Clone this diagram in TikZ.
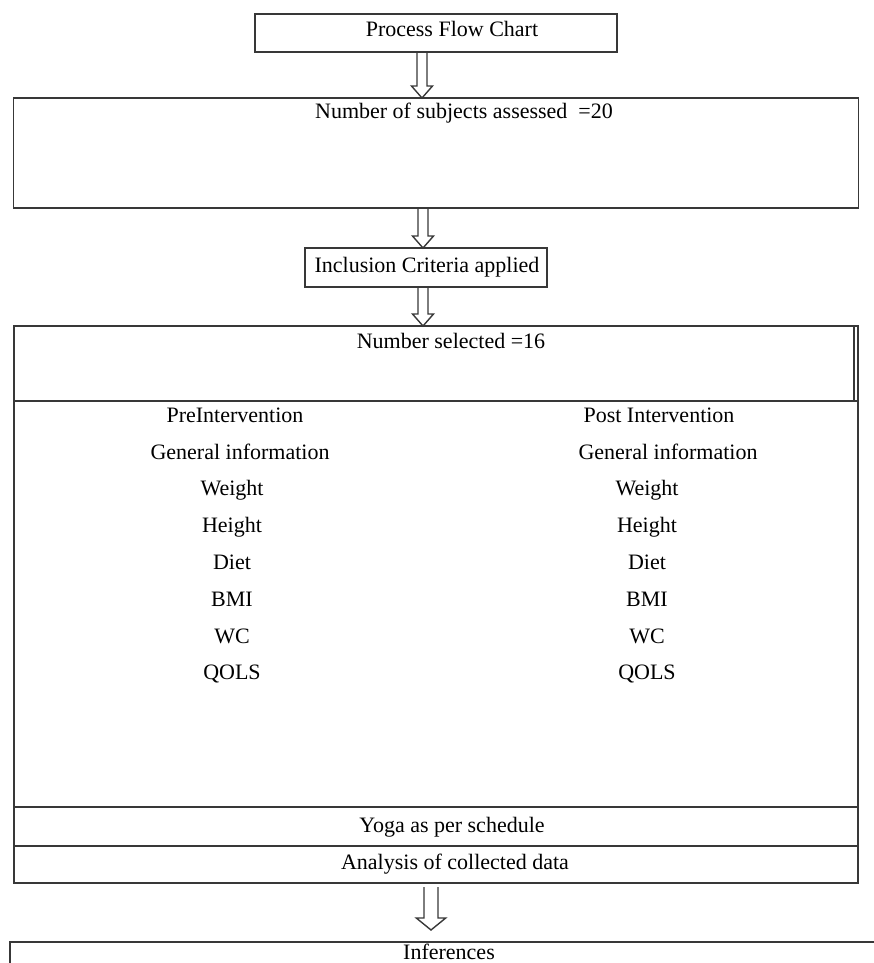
\documentclass[tikz,border=0pt]{standalone}
\usepackage{fontspec}
\setmainfont{Liberation Serif}
\usepackage{tikz}
\usetikzlibrary{positioning,calc}
\definecolor{traco}{HTML}{383838}
\newcommand{\hollowdown}[3][1]{%
  \draw[harrow] ($(#2)+(-5*#1,0)$) -- ($(#3)+(-5*#1,-12)$) -- ($(#3)+(-10.5*#1,-12)$) -- (#3)
    -- ($(#3)+(10.5*#1,-12)$) -- ($(#3)+(5*#1,-12)$) -- ($(#2)+(5*#1,0)$);}

\begin{document}
\begin{tikzpicture}[
      x=1pt, y=-1pt,
      every node/.style={font=\fontsize{22}{26}\selectfont},
      box/.style={draw=traco,line width=1.6pt,rectangle,inner sep=0pt,outer sep=0pt},
      txt/.style={anchor=base,inner sep=0pt,text=black},
      harrow/.style={draw=traco,line width=1.4pt,line join=miter},
    ]
  \useasboundingbox (0,0) rectangle (874,963);

  % caixas principais
  \node[box, minimum width=362pt, minimum height=38pt] (title) at (436,33) {};
  \node[box, minimum width=845pt, minimum height=110pt, below=46pt of title] (assess) {};
  \node[box, minimum width=242pt, minimum height=39pt, below=40pt of assess, xshift=-10pt] (incl) {};
  \node[box, minimum width=844pt, minimum height=75pt, below=39pt of incl, xshift=10pt] (sel) {};
  \node[box, minimum width=844pt, minimum height=406pt, below=0pt of sel] (data) {};
  \node[box, minimum width=844pt, minimum height=39pt, below=0pt of data] (yoga) {};
  \node[box, minimum width=844pt, minimum height=37pt, below=0pt of yoga] (anal) {};
  \node[box, minimum width=900pt, minimum height=40pt, below=59pt of anal, xshift=24pt] (infer) {};
  \draw[box] ($(sel.north east)+(-4,0)$) -- ($(sel.south east)+(-4,0)$);

  % textos
  \node[txt] (ttitle) at (452,37) {Process Flow Chart};
  \node[txt] (tassess) at (464,119) {Number of subjects assessed~ =20};
  \node[txt] (tincl) at (427,272) {Inclusion Criteria applied};
  \node[txt] (tsel) at (451,348) {Number selected =16};
  \node[txt] (tpre) at (235,422) {PreIntervention};
  \node[txt] (tpost) at (659,422) {Post Intervention};
  \node[txt] (gpre) at (240,459) {General information};
  \node[txt] (gpost) at (668,459) {General information};
  \foreach \item [count=\i] in {Weight,Height,Diet,BMI,WC,QOLS} {
    \node[txt] (pre\i) at (232,{459+36.8*\i}) {\item};
    \node[txt] (post\i) at (647,{459+36.8*\i}) {\item};
  }
  \node[txt] (tyoga) at (452,832) {Yoga as per schedule};
  \node[txt] (tanal) at (455,869) {Analysis of collected data};
  \node[txt] (tinfer) at (449,959) {Inferences};

  % setas vazadas
  \hollowdown{422,0 |- title.south}{422,0 |- assess.north}
  \hollowdown{423,0 |- assess.south}{423,0 |- incl.north}
  \hollowdown{423,0 |- incl.south}{423,0 |- sel.north}
  \coordinate (a4top) at ($(anal.south)+(-5,4)$);
  \coordinate (a4tip) at ($(a4top |- infer.north)+(0,-12)$);
  \hollowdown[1.4]{a4top}{a4tip}
\end{tikzpicture}
\end{document}
